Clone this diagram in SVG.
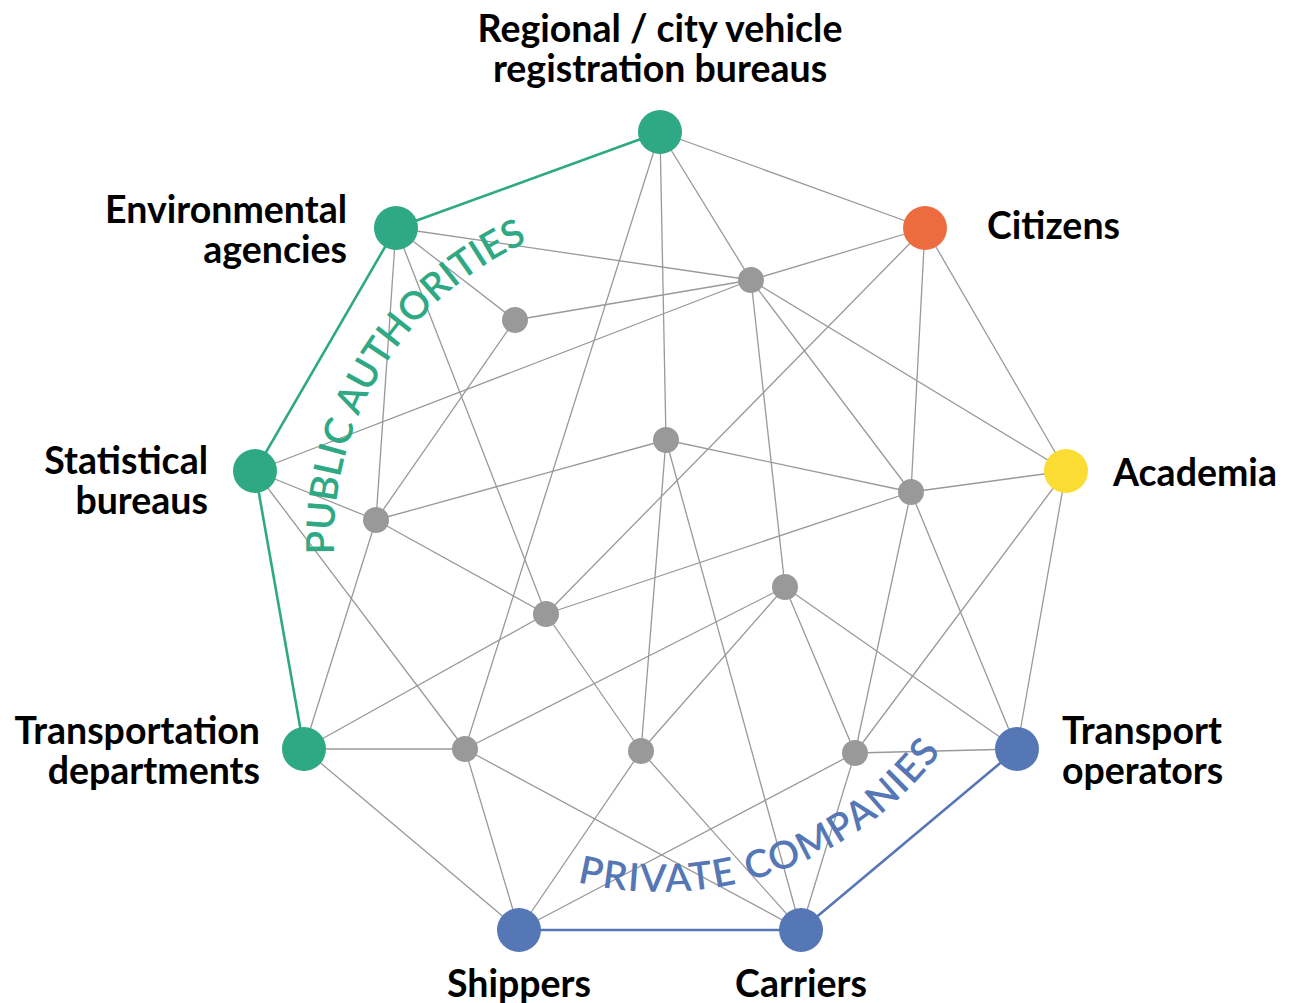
<svg xmlns="http://www.w3.org/2000/svg" width="1291" height="1003" viewBox="0 0 1291 1003">
<style>
.e{stroke:#999;stroke-width:1.3;fill:none}
.g{stroke:#2ea983;stroke-width:2.6;fill:none}
.b{stroke:#5677b5;stroke-width:2.6;fill:none}
.in{fill:#999}
.lbl{font-family:Lato,"Liberation Sans",sans-serif;font-weight:700;font-size:37.5px;fill:#000}
.arc{font-family:Lato,"Liberation Sans",sans-serif;font-weight:600;font-size:38.5px}
</style>
<defs>
<path id="pa" d="M334.3,554.2 A326,326 0 0 1 527.4,242.2"/>
<path id="pc" d="M577.2,882.1 A352,352 0 0 0 941.1,751.8"/>
</defs>
<rect width="1291" height="1003" fill="#fff"/>
<g id="connectors">
<line class="e" x1="660" y1="132" x2="925" y2="228"/>
<line class="e" x1="660" y1="132" x2="751" y2="280"/>
<line class="e" x1="660" y1="132" x2="666" y2="440"/>
<line class="e" x1="660" y1="132" x2="465" y2="749"/>
<line class="e" x1="396" y1="228" x2="751" y2="280"/>
<line class="e" x1="396" y1="228" x2="515" y2="320"/>
<line class="e" x1="396" y1="228" x2="376" y2="520"/>
<line class="e" x1="396" y1="228" x2="546" y2="614"/>
<line class="e" x1="255" y1="471" x2="751" y2="280"/>
<line class="e" x1="255" y1="471" x2="376" y2="520"/>
<line class="e" x1="255" y1="471" x2="465" y2="749"/>
<line class="e" x1="304" y1="749" x2="376" y2="520"/>
<line class="e" x1="304" y1="749" x2="546" y2="614"/>
<line class="e" x1="304" y1="749" x2="465" y2="749"/>
<line class="e" x1="304" y1="749" x2="519" y2="930"/>
<line class="e" x1="925" y1="228" x2="751" y2="280"/>
<line class="e" x1="925" y1="228" x2="546" y2="614"/>
<line class="e" x1="925" y1="228" x2="911" y2="492"/>
<line class="e" x1="925" y1="228" x2="1066" y2="471"/>
<line class="e" x1="1066" y1="471" x2="751" y2="280"/>
<line class="e" x1="1066" y1="471" x2="911" y2="492"/>
<line class="e" x1="1066" y1="471" x2="855" y2="753"/>
<line class="e" x1="1066" y1="471" x2="1017" y2="749"/>
<line class="e" x1="1017" y1="749" x2="785" y2="587"/>
<line class="e" x1="1017" y1="749" x2="911" y2="492"/>
<line class="e" x1="1017" y1="749" x2="855" y2="753"/>
<line class="e" x1="751" y1="280" x2="515" y2="320"/>
<line class="e" x1="751" y1="280" x2="785" y2="587"/>
<line class="e" x1="751" y1="280" x2="911" y2="492"/>
<line class="e" x1="666" y1="440" x2="376" y2="520"/>
<line class="e" x1="666" y1="440" x2="911" y2="492"/>
<line class="e" x1="666" y1="440" x2="641" y2="751"/>
<line class="e" x1="666" y1="440" x2="801" y2="930"/>
<line class="e" x1="515" y1="320" x2="376" y2="520"/>
<line class="e" x1="911" y1="492" x2="855" y2="753"/>
<line class="e" x1="911" y1="492" x2="546" y2="614"/>
<line class="e" x1="376" y1="520" x2="546" y2="614"/>
<line class="e" x1="546" y1="614" x2="641" y2="751"/>
<line class="e" x1="785" y1="587" x2="465" y2="749"/>
<line class="e" x1="785" y1="587" x2="641" y2="751"/>
<line class="e" x1="785" y1="587" x2="855" y2="753"/>
<line class="e" x1="465" y1="749" x2="519" y2="930"/>
<line class="e" x1="465" y1="749" x2="801" y2="930"/>
<line class="e" x1="641" y1="751" x2="519" y2="930"/>
<line class="e" x1="641" y1="751" x2="801" y2="930"/>
<line class="e" x1="855" y1="753" x2="519" y2="930"/>
<line class="e" x1="855" y1="753" x2="801" y2="930"/>
<line class="g" x1="660" y1="132" x2="396" y2="228"/>
<line class="g" x1="396" y1="228" x2="255" y2="471"/>
<line class="g" x1="255" y1="471" x2="304" y2="749"/>
<line class="b" x1="519" y1="930" x2="801" y2="930"/>
<line class="b" x1="801" y1="930" x2="1017" y2="749"/>
</g>
<g id="group-labels">
<text class="arc" fill="#2ea983"><textPath href="#pa" textLength="390" lengthAdjust="spacing">PUBLIC AUTHORITIES</textPath></text>
<text class="arc" fill="#5677b5"><textPath href="#pc" textLength="409" lengthAdjust="spacing">PRIVATE COMPANIES</textPath></text>
</g>
<g id="inner-nodes">
<circle id="n1" class="in" cx="515" cy="320" r="13"/>
<circle id="n2" class="in" cx="751" cy="280" r="13"/>
<circle id="n3" class="in" cx="666" cy="440" r="13"/>
<circle id="n4" class="in" cx="911" cy="492" r="13"/>
<circle id="n5" class="in" cx="376" cy="520" r="13"/>
<circle id="n6" class="in" cx="546" cy="614" r="13"/>
<circle id="n7" class="in" cx="785" cy="587" r="13"/>
<circle id="n8" class="in" cx="465" cy="749" r="13"/>
<circle id="n9" class="in" cx="641" cy="751" r="13"/>
<circle id="n10" class="in" cx="855" cy="753" r="13"/>
</g>
<g id="registration">
<circle cx="660" cy="132" r="22" fill="#2ea983"/>
<text class="lbl" x="660" y="42" text-anchor="middle">Regional / city vehicle</text>
<text class="lbl" x="660" y="82" text-anchor="middle">registration bureaus</text>
</g>
<g id="environmental">
<circle cx="396" cy="228" r="22" fill="#2ea983"/>
<text class="lbl" x="347" y="223" text-anchor="end">Environmental</text>
<text class="lbl" x="347" y="263" text-anchor="end">agencies</text>
</g>
<g id="statistical">
<circle cx="255" cy="471" r="22" fill="#2ea983"/>
<text class="lbl" x="208" y="474" text-anchor="end">Statistical</text>
<text class="lbl" x="208" y="514" text-anchor="end">bureaus</text>
</g>
<g id="transportation">
<circle cx="304" cy="749" r="22" fill="#2ea983"/>
<text class="lbl" x="260" y="744" text-anchor="end">Transportation</text>
<text class="lbl" x="260" y="784" text-anchor="end">departments</text>
</g>
<g id="citizens">
<circle cx="925" cy="228" r="22" fill="#ec6c3f"/>
<text class="lbl" x="987" y="239">Citizens</text>
</g>
<g id="academia">
<circle cx="1066" cy="471" r="22" fill="#fadc32"/>
<text class="lbl" x="1113" y="486">Academia</text>
</g>
<g id="operators">
<circle cx="1017" cy="749" r="22" fill="#5677b5"/>
<text class="lbl" x="1062" y="744">Transport</text>
<text class="lbl" x="1062" y="784">operators</text>
</g>
<g id="shippers">
<circle cx="519" cy="930" r="22" fill="#5677b5"/>
<text class="lbl" x="519" y="997" text-anchor="middle">Shippers</text>
</g>
<g id="carriers">
<circle cx="801" cy="930" r="22" fill="#5677b5"/>
<text class="lbl" x="801" y="997" text-anchor="middle">Carriers</text>
</g>
</svg>
